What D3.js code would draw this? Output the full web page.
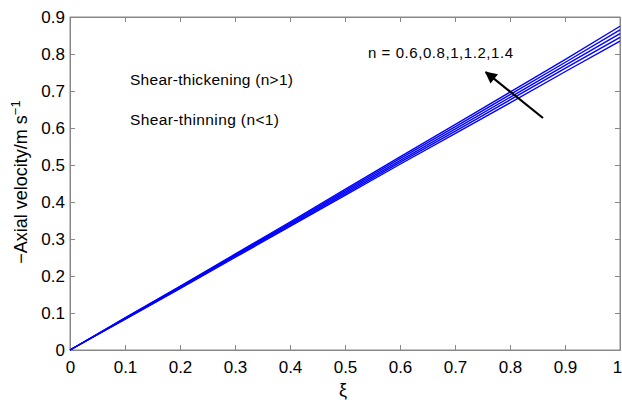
<!DOCTYPE html>
<html><head><meta charset="utf-8">
<script src="https://cdn.jsdelivr.net/npm/d3@7"></script>
<style>body{margin:0;background:#fff}text{font-family:"Liberation Sans",Arial,sans-serif}</style>
</head><body><svg id="c" width="622" height="408"></svg>
<script>
const xTicks = [0,0.1,0.2,0.3,0.4,0.5,0.6,0.7,0.8,0.9,1];
const yTicks = [0,0.1,0.2,0.3,0.4,0.5,0.6,0.7,0.8,0.9];
const nValues = [0.6,0.8,1,1.2,1.4];
const xi = [0,0.1,0.2,0.3,0.4,0.5,0.6,0.7,0.8,0.9,1];
const series = [
  [0,0.083,0.166,0.250,0.334,0.418,0.502,0.585,0.668,0.752,0.835],
  [0,0.084,0.168,0.253,0.337,0.422,0.507,0.591,0.676,0.761,0.845],
  [0,0.085,0.170,0.255,0.340,0.426,0.512,0.597,0.683,0.769,0.855],
  [0,0.086,0.171,0.257,0.343,0.430,0.517,0.603,0.690,0.777,0.865],
  [0,0.087,0.172,0.259,0.346,0.434,0.522,0.609,0.697,0.785,0.875]
];
const arrowFrom = [0.86,0.627];
const arrowTo = [0.756,0.751];

const svg = d3.select("#c");
const m = {l:70, r:620, t:17, b:350};
const x = d3.scaleLinear().domain([0,1]).range([m.l,m.r]);
const y = d3.scaleLinear().domain([0,0.9]).range([m.b,m.t]);
const fmt = d => d===0?"0":(d===1?"1":d3.format(".1f")(d));

svg.append("rect").attr("x",m.l).attr("y",m.t).attr("width",m.r-m.l).attr("height",m.b-m.t)
  .attr("fill","none").attr("stroke","#888").attr("stroke-width",1);

const ax = svg.append("g").attr("transform",`translate(0,${m.b})`)
  .call(d3.axisBottom(x).tickValues(xTicks).tickFormat(fmt).tickSizeInner(-5).tickSizeOuter(0).tickPadding(11));
const ay = svg.append("g").attr("transform",`translate(${m.l},0)`)
  .call(d3.axisLeft(y).tickValues(yTicks).tickFormat(fmt).tickSizeInner(-5).tickSizeOuter(0).tickPadding(5));
svg.append("g").attr("transform",`translate(0,${m.t})`)
  .call(d3.axisTop(x).tickValues(xTicks).tickFormat("").tickSizeInner(-5).tickSizeOuter(0));
svg.append("g").attr("transform",`translate(${m.r},0)`)
  .call(d3.axisRight(y).tickValues(yTicks).tickFormat("").tickSizeInner(-5).tickSizeOuter(0));
svg.selectAll(".domain").attr("stroke","#888");
svg.selectAll(".tick line").attr("stroke","#888");
svg.selectAll(".tick text").attr("font-size",17).attr("fill","#000").attr("font-family","Liberation Sans, Arial, sans-serif");
ax.selectAll(".tick text").filter(d=>d===1).attr("dx",-3);

const line = d3.line().x((d,i)=>x(xi[i])).y(d=>y(d));
svg.append("g").selectAll("path").data(series).join("path")
  .attr("d",line).attr("fill","none").attr("stroke","#0000ff").attr("stroke-width",1.4);

svg.append("defs").append("marker").attr("id","ah").attr("viewBox","0 0 10 10").attr("refX",9).attr("refY",5)
  .attr("markerWidth",14).attr("markerHeight",12).attr("orient","auto").attr("markerUnits","userSpaceOnUse")
  .append("path").attr("d","M0,0 L10,5 L0,10 Z");
svg.append("line").attr("x1",x(arrowFrom[0])).attr("y1",y(arrowFrom[1]))
  .attr("x2",x(arrowTo[0])).attr("y2",y(arrowTo[1])).attr("stroke","#000").attr("stroke-width",2.2)
  .attr("marker-end","url(#ah)");

svg.append("text").attr("x",368).attr("y",58).attr("font-size",15).attr("textLength",145).text("n = " + nValues.join(","));
svg.append("text").attr("x",130).attr("y",85).attr("font-size",15.5).attr("textLength",163).text("Shear-thickening (n>1)");
svg.append("text").attr("x",130).attr("y",125).attr("font-size",15.5).attr("textLength",149).text("Shear-thinning (n<1)");

svg.append("text").attr("x",343).attr("y",396).attr("text-anchor","middle").attr("font-size",18).text("ξ");
const yl = svg.append("text").attr("transform","translate(27,182) rotate(-90)").attr("text-anchor","middle").attr("font-size",18);
yl.append("tspan").text("−Axial velocity/m s");
yl.append("tspan").attr("dy",-7).attr("font-size",13).text("−1");
</script></body></html>
